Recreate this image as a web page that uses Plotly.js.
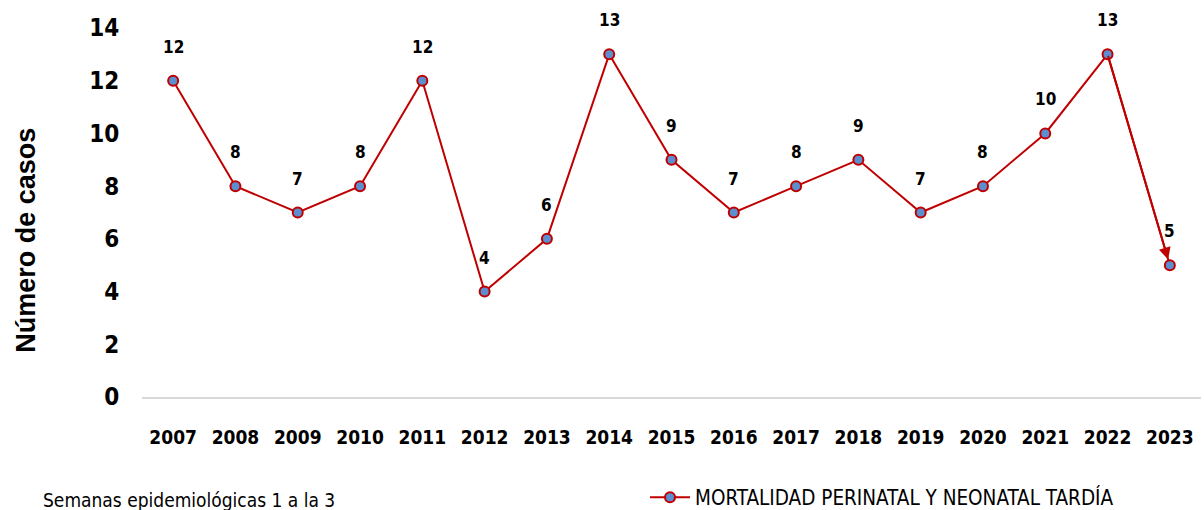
<!DOCTYPE html>
<html><head><meta charset="utf-8">
<script src="https://cdn.plot.ly/plotly-3.0.1.min.js"></script>
<style>body{margin:0;background:#fff}#c{width:1204px;height:510px}</style>
</head><body><div id="c"></div>
<script>
const years = ['2007','2008','2009','2010','2011','2012','2013','2014','2015','2016','2017','2018','2019','2020','2021','2022','2023'];
const casos = [12,8,7,8,12,4,6,13,9,7,8,9,7,8,10,13,5];
const seriesName = 'MORTALIDAD PERINATAL Y NEONATAL TARDÍA';
const yTitle = 'Número de casos';
const footnote = 'Semanas epidemiológicas 1 a la 3';

const numFont = "'DejaVu Sans Condensed','Liberation Sans Narrow',sans-serif";
const red = '#C00000';

const trace = {
  x: years, y: casos, type: 'scatter', mode: 'lines+markers', name: seriesName,
  line: {color: red, width: 2},
  marker: {size: 10, color: '#5B8FD0', line: {color: red, width: 2}},
  cliponaxis: false
};

const labels = years.map((yr, i) => ({
  x: i, y: casos[i], xref: 'x', yref: 'y', text: String(casos[i]),
  showarrow: false, yshift: 34,
  font: {family: numFont, size: 17, color: '#000', weight: 'bold'}
}));
const n = years.length;
const arrow = {
  x: n - 1, y: casos[n-1], ax: n - 2, ay: casos[n-2],
  xref: 'x', yref: 'y', axref: 'x', ayref: 'y', text: '', showarrow: true,
  arrowhead: 2, arrowsize: 1.2, arrowwidth: 2, arrowcolor: red, standoff: 6
};

const layout = {
  width: 1204, height: 510,
  margin: {l: 142, r: 3, t: 28, b: 113, autoexpand: false},
  paper_bgcolor: '#fff', plot_bgcolor: '#fff',
  showlegend: true,
  legend: {x: 0.475, y: -0.272, xanchor: 'left', yanchor: 'middle', orientation: 'h',
    font: {family: numFont, size: 20.5, color: '#000'}, itemwidth: 40},
  xaxis: {type: 'category', range: [-0.5, 16.5], showgrid: false, zeroline: false,
    showline: true, linecolor: '#D9D9D9', linewidth: 2, automargin: false,
    ticks: 'outside', ticklen: 22, tickcolor: 'rgba(0,0,0,0)',
    tickfont: {family: numFont, size: 19, color: '#000', weight: 'bold'}},
  yaxis: {range: [0, 14], dtick: 2, showgrid: false, zeroline: false, showline: false, automargin: false,
    ticks: 'outside', ticklen: 17, tickcolor: 'rgba(0,0,0,0)',
    tickfont: {family: numFont, size: 24, color: '#000', weight: 'bold'}},
  annotations: labels.concat([arrow, {
    xref: 'paper', yref: 'paper', x: -0.109, y: 0.425, xanchor: 'center', yanchor: 'middle',
    textangle: -90, showarrow: false,
    text: yTitle, font: {family: "'Liberation Sans',Arial,sans-serif", size: 27, color: '#000', weight: 'bold'}
  }, {
    xref: 'paper', yref: 'paper', x: -0.095, y: -0.279, xanchor: 'left', yanchor: 'middle', showarrow: false,
    text: footnote, font: {family: numFont, size: 19, color: '#000'}
  }])
};

Plotly.newPlot('c', [trace], layout, {displayModeBar: false, staticPlot: true});
</script></body></html>
